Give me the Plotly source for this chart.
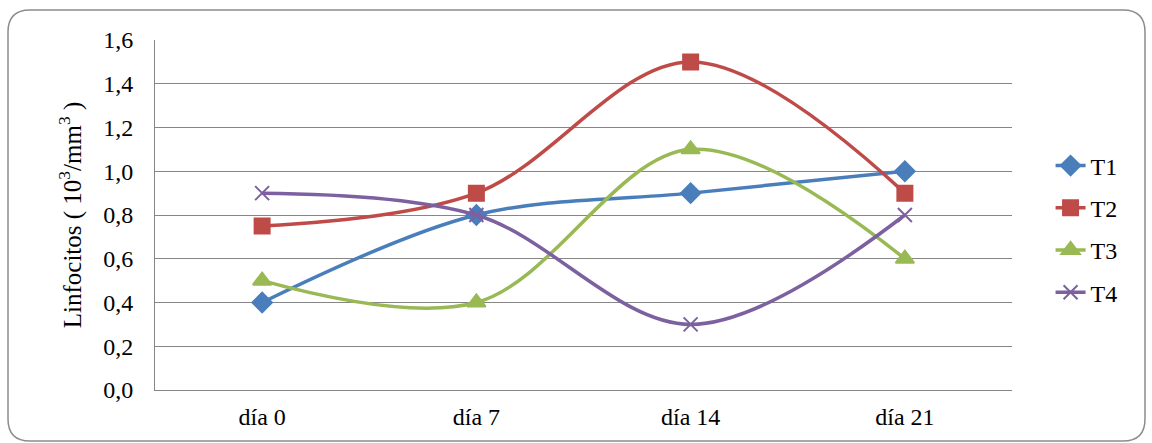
import plotly.graph_objects as go

# Lymphocyte counts per treatment across sampling days
dias = ["día 0", "día 7", "día 14", "día 21"]
t1 = [0.4, 0.8, 0.9, 1.0]
t2 = [0.75, 0.9, 1.5, 0.9]
t3 = [0.5, 0.4, 1.1, 0.6]
t4 = [0.9, 0.8, 0.3, 0.8]

series = [
    ("T1", t1, "#4A7EBB", "diamond", 15),
    ("T2", t2, "#BE4B48", "square", 15),
    ("T3", t3, "#98B954", "triangle-up", 16),
    ("T4", t4, "#7D60A0", "x-thin", 14),
]

W, H = 1152, 443
L, R, T, B = 155, 140, 40, 53

fig = go.Figure()
for name, vals, color, symbol, size in series:
    fig.add_trace(go.Scatter(
        x=dias, y=vals, name=name, legendgroup=name, mode="lines+markers",
        line=dict(color=color, width=3.5, shape="spline", smoothing=1.0),
        marker=dict(symbol=symbol, size=size, color=color,
                    line=dict(color=color, width=2)),
    ))

# rounded outer frame, expressed in paper coordinates
pw, ph = W - L - R, H - T - B
def px(x): return (x - L) / pw
def py(y): return (H - B - y) / ph
x0, x1, y0, y1, r = 8, 1145, 10, 441, 22
path = (f"M {px(x0 + r)} {py(y0)} L {px(x1 - r)} {py(y0)} "
        f"Q {px(x1)} {py(y0)} {px(x1)} {py(y0 + r)} "
        f"L {px(x1)} {py(y1 - r)} "
        f"Q {px(x1)} {py(y1)} {px(x1 - r)} {py(y1)} "
        f"L {px(x0 + r)} {py(y1)} "
        f"Q {px(x0)} {py(y1)} {px(x0)} {py(y1 - r)} "
        f"L {px(x0)} {py(y0 + r)} "
        f"Q {px(x0)} {py(y0)} {px(x0 + r)} {py(y0)} Z")
fig.add_shape(type="path", path=path, xref="paper", yref="paper",
              line=dict(color="#8C8C8C", width=1.5), layer="below")

FAM = "Liberation Serif"
TXT = dict(family=FAM, size=24, color="#000000")
fig.update_layout(
    width=W, height=H,
    margin=dict(l=L, r=R, t=T, b=B),
    paper_bgcolor="white", plot_bgcolor="white",
    separators=",.",
    font=TXT,
    showlegend=True,
    legend=dict(x=1.045, y=0.46, xanchor="left", yanchor="middle",
                font=TXT, tracegroupgap=8, traceorder="grouped",
                bgcolor="rgba(0,0,0,0)"),
    xaxis=dict(
        type="category", range=[-0.5, 3.5],
        showgrid=False, showline=True, linecolor="#868686", linewidth=1,
        ticks="outside", ticklen=5, tickcolor="rgba(0,0,0,0)",
        tickfont=TXT,
    ),
    yaxis=dict(
        range=[0, 1.6], dtick=0.2, tickformat=".1f",
        showgrid=True, gridcolor="#868686", gridwidth=1,
        showline=True, linecolor="#868686", linewidth=1,
        zeroline=False, ticks="outside", ticklen=16, tickcolor="rgba(0,0,0,0)",
        tickfont=TXT,
        title=dict(text="Linfocitos ( 10<sup>3</sup>/mm<sup>3</sup> )",
                   font=dict(family=FAM, size=25, color="#000000"),
                   standoff=14),
    ),
)

fig.write_html("out.html")
